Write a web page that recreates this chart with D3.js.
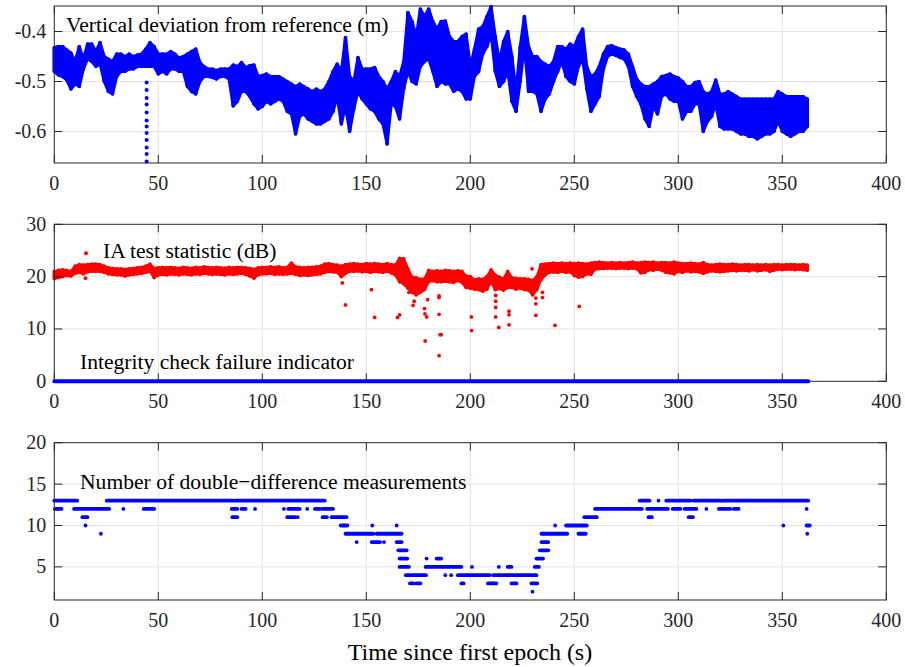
<!DOCTYPE html>
<html><head><meta charset="utf-8">
<script src="https://cdn.jsdelivr.net/npm/d3@7"></script>
<style>
body{margin:0;background:#fff}
svg{display:block}
text{font-family:"Liberation Serif","Times New Roman",serif;}
</style>
</head><body>
<svg id="c" width="905" height="667"></svg>
<script>
// ---------- DATA ----------
const sampleStep = 2; // seconds between envelope samples
// Panel 1: vertical deviation (m) envelope, upper and lower, every 2 s from 0 to 362
const devHigh = [-0.432,-0.43,-0.43,-0.437,-0.443,-0.46,-0.43,-0.455,-0.425,-0.425,-0.44,-0.422,-0.45,-0.455,-0.46,-0.445,-0.445,-0.45,-0.445,-0.45,
-0.447,-0.445,-0.435,-0.422,-0.43,-0.445,-0.445,-0.445,-0.44,-0.445,-0.453,-0.45,-0.445,-0.44,-0.435,-0.462,-0.47,-0.475,-0.475,-0.478,
-0.475,-0.475,-0.475,-0.467,-0.47,-0.462,-0.472,-0.468,-0.467,-0.49,-0.488,-0.485,-0.49,-0.49,-0.49,-0.495,-0.5,-0.505,-0.51,-0.505,
-0.51,-0.515,-0.52,-0.515,-0.52,-0.515,-0.5,-0.48,-0.465,-0.48,-0.412,-0.49,-0.5,-0.452,-0.475,-0.475,-0.475,-0.472,-0.49,-0.5,
-0.515,-0.5,-0.48,-0.49,-0.46,-0.362,-0.38,-0.41,-0.355,-0.37,-0.355,-0.38,-0.395,-0.38,-0.379,-0.41,-0.42,-0.42,-0.41,-0.405,
-0.47,-0.435,-0.395,-0.39,-0.37,-0.35,-0.41,-0.46,-0.42,-0.4,-0.45,-0.52,-0.43,-0.37,-0.43,-0.45,-0.45,-0.46,-0.465,-0.47,
-0.46,-0.43,-0.43,-0.435,-0.425,-0.43,-0.41,-0.395,-0.47,-0.49,-0.485,-0.47,-0.445,-0.43,-0.428,-0.432,-0.435,-0.437,-0.445,-0.47,
-0.495,-0.505,-0.51,-0.51,-0.505,-0.5,-0.49,-0.488,-0.485,-0.49,-0.493,-0.5,-0.51,-0.51,-0.502,-0.5,-0.52,-0.525,-0.52,-0.497,
-0.525,-0.525,-0.52,-0.525,-0.53,-0.535,-0.535,-0.535,-0.535,-0.535,-0.535,-0.535,-0.535,-0.535,-0.52,-0.525,-0.53,-0.53,-0.53,-0.53,
-0.53,-0.535];
const devLow = [-0.48,-0.487,-0.49,-0.497,-0.515,-0.505,-0.51,-0.475,-0.455,-0.46,-0.47,-0.465,-0.5,-0.52,-0.525,-0.49,-0.48,-0.48,-0.475,-0.475,
-0.47,-0.47,-0.47,-0.47,-0.47,-0.485,-0.48,-0.485,-0.475,-0.475,-0.48,-0.48,-0.51,-0.52,-0.525,-0.5,-0.49,-0.49,-0.492,-0.495,
-0.49,-0.49,-0.495,-0.549,-0.54,-0.52,-0.52,-0.53,-0.545,-0.555,-0.55,-0.54,-0.545,-0.54,-0.535,-0.54,-0.56,-0.565,-0.605,-0.57,
-0.565,-0.575,-0.58,-0.585,-0.585,-0.58,-0.575,-0.56,-0.53,-0.585,-0.55,-0.6,-0.555,-0.52,-0.535,-0.545,-0.555,-0.56,-0.575,-0.585,
-0.625,-0.545,-0.55,-0.575,-0.515,-0.48,-0.5,-0.505,-0.47,-0.46,-0.455,-0.48,-0.51,-0.5,-0.505,-0.505,-0.52,-0.515,-0.52,-0.535,
-0.535,-0.49,-0.48,-0.445,-0.43,-0.405,-0.48,-0.51,-0.5,-0.48,-0.54,-0.56,-0.5,-0.43,-0.52,-0.52,-0.525,-0.56,-0.535,-0.525,
-0.5,-0.48,-0.46,-0.49,-0.5,-0.505,-0.47,-0.455,-0.515,-0.56,-0.545,-0.53,-0.475,-0.45,-0.445,-0.448,-0.452,-0.455,-0.47,-0.51,
-0.53,-0.545,-0.575,-0.59,-0.55,-0.565,-0.53,-0.525,-0.535,-0.54,-0.54,-0.575,-0.56,-0.56,-0.545,-0.545,-0.6,-0.58,-0.57,-0.545,
-0.59,-0.595,-0.595,-0.595,-0.6,-0.605,-0.605,-0.61,-0.61,-0.615,-0.61,-0.605,-0.605,-0.6,-0.58,-0.6,-0.605,-0.61,-0.605,-0.6,
-0.6,-0.59];
// isolated drop of points near t = 44.4 s
const devDropTime = 44.4;
const devDropValues = [-0.502,-0.517,-0.533,-0.546,-0.562,-0.578,-0.59,-0.603,-0.617,-0.632,-0.645,-0.66];

// Panel 2: IA test statistic (dB) envelope every 2 s
const iaHigh = [21.0,21.2,21.3,21.2,21.0,22.0,22.3,22.2,22.3,22.4,22.4,22.3,22.0,21.7,21.6,21.5,21.5,21.4,21.5,21.6,
21.7,21.8,22.0,22.4,21.6,21.7,21.8,21.7,21.8,21.7,21.6,21.8,21.7,21.6,21.8,21.7,21.9,21.8,21.7,21.8,
21.7,21.6,21.8,21.7,21.8,21.8,21.7,21.6,21.4,21.7,21.8,21.8,21.9,21.8,21.9,21.7,21.8,22.6,21.9,21.8,
21.7,21.8,21.8,21.9,22.0,22.4,22.5,22.3,22.2,22.0,22.3,22.4,22.5,22.4,22.3,22.5,22.4,22.5,22.4,22.3,
22.5,22.3,22.2,23.5,23.4,21.5,19.9,19.8,19.5,19.6,21.2,21.0,21.1,21.0,21.2,21.1,21.0,21.1,21.0,20.1,
20.0,19.4,19.6,19.5,20.0,21.3,20.3,19.9,19.6,21.0,19.8,19.7,19.6,19.6,19.5,19.3,20.0,22.3,22.4,22.5,
22.6,22.5,22.6,22.5,22.6,22.5,22.6,22.5,22.4,22.6,22.7,22.8,22.7,22.6,22.7,22.6,22.7,22.6,22.7,22.8,
22.6,22.7,22.8,22.7,22.8,22.6,22.7,22.7,22.6,22.8,22.6,22.5,22.5,22.6,22.5,22.4,22.7,22.3,22.2,22.3,
22.4,22.3,22.3,22.4,22.3,22.2,22.3,22.3,22.2,22.3,22.2,22.3,22.2,22.3,22.3,22.2,22.3,22.3,22.3,22.2,
22.3,22.2];
const iaLow = [19.6,19.8,20.0,20.2,20.1,20.6,20.8,20.5,20.9,21.0,21.0,21.0,20.8,20.5,20.4,20.3,20.3,20.1,20.3,20.4,
20.5,20.6,20.8,21.0,19.8,20.3,20.4,20.3,20.5,20.4,20.3,20.5,20.4,20.3,20.5,20.4,20.6,20.5,20.4,20.5,
20.4,20.3,20.5,20.4,20.5,20.6,20.4,20.1,19.7,20.3,20.5,20.5,20.6,20.4,20.5,20.4,20.5,20.6,20.4,20.2,
20.3,20.2,20.3,20.4,20.5,20.8,21.0,20.9,20.8,20.0,20.6,21.0,21.0,21.1,20.9,21.0,20.8,21.0,20.9,20.8,
21.0,20.7,20.3,19.0,18.6,17.8,17.0,16.5,17.0,17.5,19.0,19.2,19.0,19.0,19.1,19.0,18.9,19.2,18.9,17.9,
17.8,17.6,17.5,17.2,17.6,19.0,17.5,17.7,17.4,17.9,17.9,17.6,17.8,17.5,17.4,16.5,17.5,19.4,20.3,20.8,
20.9,20.8,21.0,20.8,20.9,20.2,19.9,20.0,20.5,20.4,21.4,21.5,21.5,21.6,21.6,21.5,21.6,21.6,21.5,21.6,
21.5,20.7,20.8,21.3,21.2,21.4,21.2,20.8,20.7,20.5,21.0,20.8,21.1,20.9,21.0,20.9,20.6,20.9,21.1,21.0,
20.9,21.0,21.1,21.2,21.1,21.2,21.2,21.1,21.3,21.1,21.2,21.3,21.0,21.2,21.4,21.3,21.4,21.4,21.3,21.4,
21.3,21.2];
// isolated low IA test statistic samples [time s, dB]
const iaOutliers = [[15,19.7],[138.5,18.8],[140,14.6],[152.5,17.5],[154,12.2],[165,12.2],[166,12.7],[170.5,17.0],[172.5,14.5],
[173,15.3],[178,13.9],[178.2,12.9],[179,12.3],[178.3,7.7],[179.5,15.6],[185,16.0],[185,16.3],[185,12.8],[185.5,8.9],[186,8.9],
[185,4.9],[200.5,12.3],[200.6,9.7],[212.2,16.4],[212.2,15.3],[212.2,14.1],[212.2,12.3],[213.7,10.3],[218.6,13.4],[218.6,12.7],
[218.6,10.8],[229.7,21.5],[231.5,15.9],[231.5,14.8],[231.5,12.6],[234.7,17.0],[234.7,16.0],[240.7,10.7],[252.4,14.3]];
// Integrity check failure indicator: zero throughout
const failStart = 0, failEnd = 362.5, failValue = 0;

// Panel 3: number of DD measurements, runs [start s, end s, count]
const ddRuns = [[0,11,13],[0.3,3.5,12],[9.5,26.4,12],[13.5,15.9,11],[15,15,10],[22.4,22.4,9],
[25.2,86,13],[33.2,33.2,12],[43,48,12],
[87,130,13],[85.3,88,12],[90,92,12],[96.5,96.5,12],[110.4,110.4,12],[112.5,118,12],[121.6,121.6,12],[125.3,127.7,12],[129,134,12],
[85.6,88,11],[112,115.7,11],[117,117,11],[129,131,11],[133.3,140.5,11],
[137.7,140.9,10],[140,153.4,9],[145.4,145.4,8],[152.9,152.9,10],[152.6,156.6,8],[158.5,158.5,8],[155,167,9],[164.6,164.6,10],
[164.6,167,8],[165.4,169.4,7],[166,169.7,6],[166,170.5,5],[169,178.7,4],[171,172.6,3],[174,176,3],
[178.5,195.7,5],[179,179,6],[183.8,186,6],[188,188,4],[190.8,190.8,4],[194,209.3,4],[195.7,196.8,3],[200.8,200.8,5],
[208.5,212.5,3],[211,231.8,4],[213.7,213.7,5],[218,219.8,5],[219.8,222.2,3],[229.9,229.9,2],[229.4,232.2,3],[231,233,5],
[231.8,235,6],[233.4,237.5,7],[234.2,237.5,8],[234.2,246.6,9],[240.8,240.8,10],[246,256,10],[252,255.5,9],[254.8,260.8,11],
[260,282.5,12],[281.4,286.2,13],[285,295,12],[285.7,287.3,11],[290.5,290.5,13],[294.2,299,13],[297.3,301,12],[299.7,305.8,13],
[303,305,12],[305,307,11],[305.8,308.7,12],[307.4,320.3,13],[313.5,313.5,12],[319.5,322.7,12],[323.8,325,12],[326.7,329,12],
[321,362.5,13],[350.5,350.5,10],[361.7,361.7,12],[361.7,363.2,10],[362,362,9]];

// axes ticks / labels
const xTicks = [0,50,100,150,200,250,300,350,400];
const y1Ticks = [-0.6,-0.5,-0.4];
const y2Ticks = [0,10,20,30];
const y3Ticks = [5,10,15,20];
const labelDev = "Vertical deviation from reference (m)";
const labelIA = "IA test statistic (dB)";
const labelFail = "Integrity check failure indicator";
const labelDD = "Number of double\u2212difference measurements";
const labelX = "Time since first epoch (s)";

// ---------- DRAW ----------
const svg = d3.select("#c");
const AX = "#262626", GRID = "#e3e3e3", BLUE = "#0000ff", RED = "#ff0000";
const FS = 20, LFS = 21.6, XFS = 24;
const x = d3.scaleLinear().domain([0,400]).range([54.3,886.3]);
const hyphenFmt = f => (d => f(d).replace("\u2212","-"));

function panel(yDom, top, bottom, yTicks, fmt) {
  const y = d3.scaleLinear().domain(yDom).range([bottom, top]);
  const g = svg.append("g");
  const L = x.range()[0], R = x.range()[1];
  g.selectAll(".gx").data(xTicks.slice(1,-1)).join("line")
    .attr("x1", d=>x(d)).attr("x2", d=>x(d)).attr("y1", top).attr("y2", bottom)
    .attr("stroke", GRID).attr("stroke-width", 1);
  g.selectAll(".gy").data(yTicks.filter(d=>y(d)>top+0.5 && y(d)<bottom-0.5)).join("line")
    .attr("x1", L).attr("x2", R).attr("y1", d=>y(d)).attr("y2", d=>y(d))
    .attr("stroke", GRID).attr("stroke-width", 1);
  return {g, y, top, bottom, yTicks, fmt};
}
function frame(p) {
  const {y, top, bottom, yTicks, fmt} = p;
  const L = x.range()[0], R = x.range()[1];
  const fg = svg.append("g");
  const TL = 8;
  xTicks.forEach(d => {
    fg.append("line").attr("x1", x(d)).attr("x2", x(d)).attr("y1", bottom).attr("y2", bottom-TL).attr("stroke", AX);
    fg.append("line").attr("x1", x(d)).attr("x2", x(d)).attr("y1", top).attr("y2", top+TL).attr("stroke", AX);
    fg.append("text").attr("x", x(d)).attr("y", bottom+27).attr("text-anchor","middle")
      .attr("font-size", FS).attr("fill", AX).text(d);
  });
  yTicks.forEach(d => {
    fg.append("line").attr("x1", L).attr("x2", L+TL).attr("y1", y(d)).attr("y2", y(d)).attr("stroke", AX);
    fg.append("line").attr("x1", R).attr("x2", R-TL).attr("y1", y(d)).attr("y2", y(d)).attr("stroke", AX);
    fg.append("text").attr("x", L-8).attr("y", y(d)+6.5).attr("text-anchor","end")
      .attr("font-size", FS).attr("fill", AX).text(fmt(d));
  });
  fg.append("rect").attr("x", L).attr("y", top).attr("width", R-L).attr("height", bottom-top)
    .attr("fill","none").attr("stroke", AX).attr("stroke-width", 1);
}
function band(g, y, data, color, sw) {
  const area = d3.area().x(d=>x(d.t)).y0(d=>y(d.lo)).y1(d=>y(d.hi)).curve(d3.curveLinear);
  g.append("path").datum(data).attr("d", area).attr("fill", color)
    .attr("stroke", color).attr("stroke-width", sw).attr("stroke-linejoin","round");
  g.selectAll(null).data(data).join("line")
    .attr("x1", d=>x(d.t)).attr("x2", d=>x(d.t)).attr("y1", d=>y(d.hi)).attr("y2", d=>y(d.lo))
    .attr("stroke", color).attr("stroke-width", 3.6).attr("stroke-linecap","round");
}

// Panel 1
const p1 = panel([-0.663,-0.349], 6, 163, y1Ticks, hyphenFmt(d3.format(".1f")));
const devData = devHigh.map((h,i)=>({t:i*sampleStep, hi:h, lo:devLow[i]}));
band(p1.g, p1.y, devData, BLUE, 3);
p1.g.selectAll("circle.d").data(devDropValues).join("circle")
  .attr("cx", x(devDropTime)).attr("cy", d=>p1.y(d)).attr("r", 2).attr("fill", BLUE);
frame(p1);
svg.append("text").attr("x", 66).attr("y", 32).attr("font-size", LFS).attr("fill","#000").text(labelDev);

// Panel 2
const p2 = panel([0,30], 224.3, 381.3, y2Ticks, d3.format("d"));
const iaData = iaHigh.map((h,i)=>({t:i*sampleStep, hi:h, lo:iaLow[i]}));
band(p2.g, p2.y, iaData, RED, 2.6);
p2.g.selectAll("circle.o").data(iaOutliers).join("circle")
  .attr("cx", d=>x(d[0])).attr("cy", d=>p2.y(d[1])).attr("r", 1.9).attr("fill", RED);
frame(p2);
svg.append("line").attr("x1", x(failStart)).attr("x2", x(failEnd)).attr("y1", p2.y(failValue)).attr("y2", p2.y(failValue))
  .attr("stroke", BLUE).attr("stroke-width", 4).attr("stroke-linecap","round");
svg.append("circle").attr("cx", 86).attr("cy", 253.3).attr("r", 2).attr("fill", RED);
svg.append("text").attr("x", 103).attr("y", 258).attr("font-size", LFS).attr("fill","#000").text(labelIA);
svg.append("text").attr("x", 80).attr("y", 369).attr("font-size", LFS).attr("fill","#000").text(labelFail);

// Panel 3
const p3 = panel([1,20], 442.7, 600, y3Ticks, d3.format("d"));
p3.g.selectAll("line.r").data(ddRuns).join("line")
  .attr("x1", d=>x(d[0])).attr("x2", d=>x(d[1])).attr("y1", d=>p3.y(d[2])).attr("y2", d=>p3.y(d[2]))
  .attr("stroke", BLUE).attr("stroke-width", 3.8).attr("stroke-linecap","round");
frame(p3);
svg.append("text").attr("x", 80).attr("y", 489).attr("font-size", LFS).attr("fill","#000").text(labelDD);
svg.append("text").attr("x", 470).attr("y", 660).attr("text-anchor","middle").attr("font-size", XFS).attr("fill","#000").text(labelX);
</script>
</body></html>
